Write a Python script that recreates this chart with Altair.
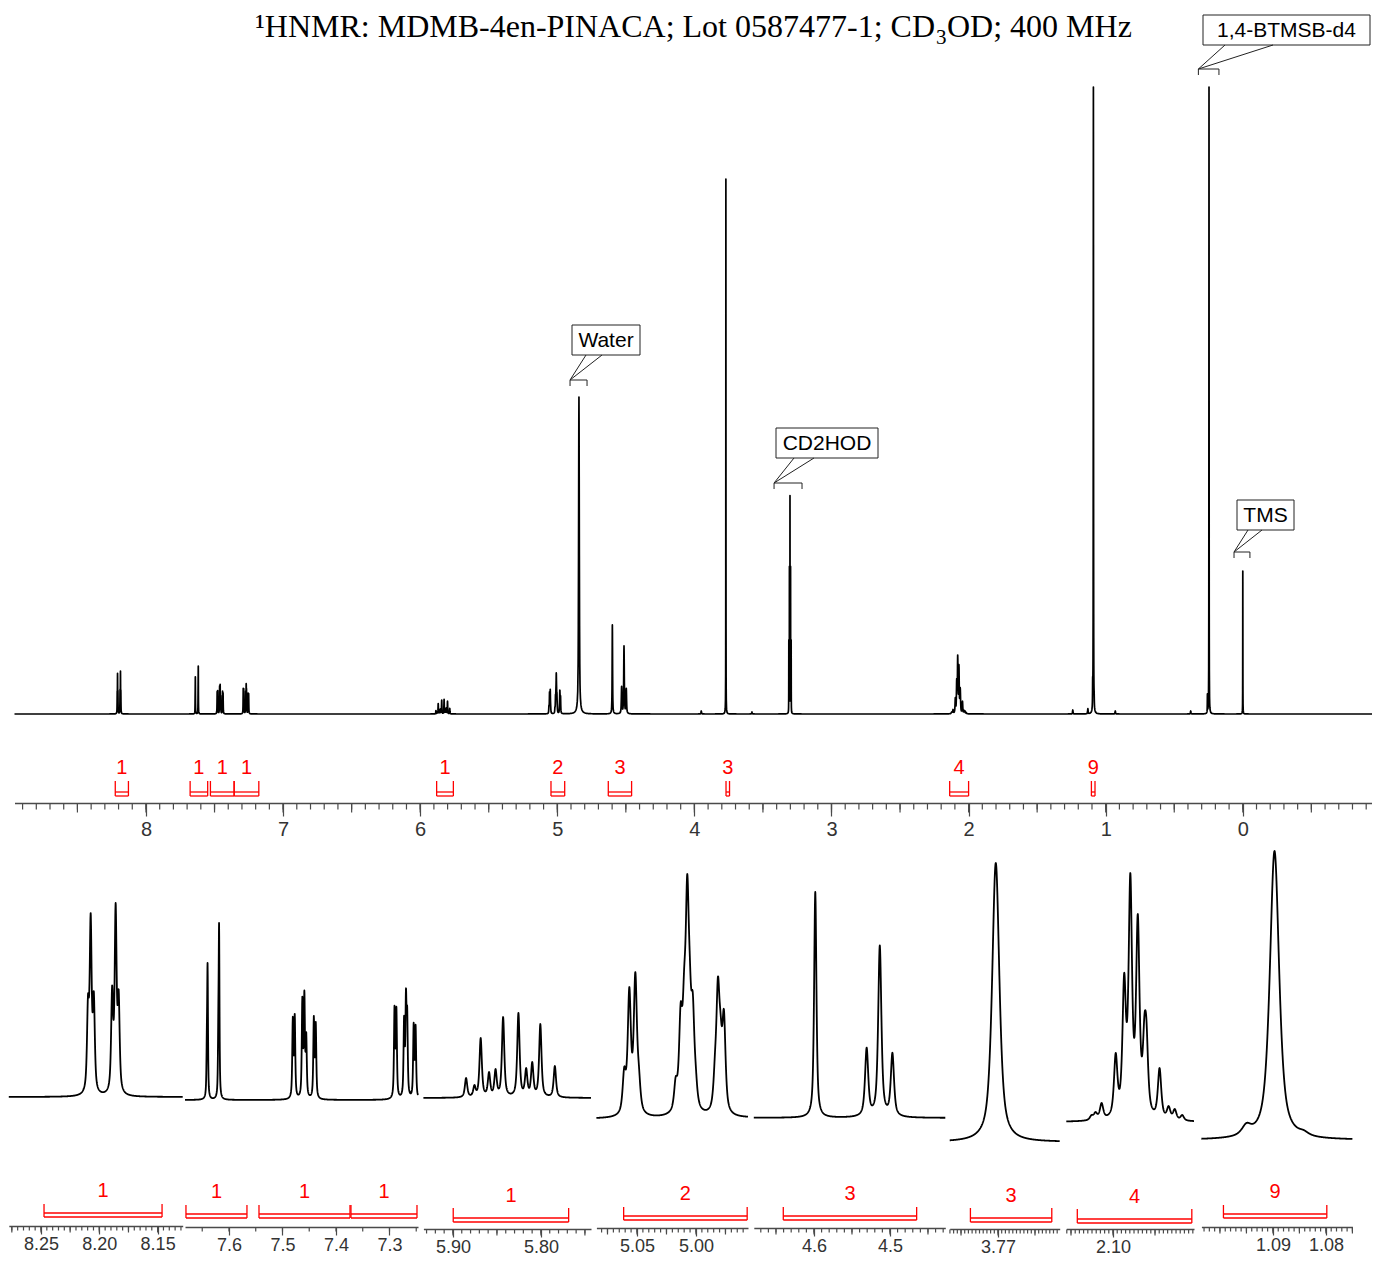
import numpy as np
import pandas as pd
import altair as alt

# ======================= values =======================
TITLE_MAIN = "\u00b9HNMR: MDMB-4en-PINACA; Lot 0587477-1; CD"
TITLE_SUB = "3"
TITLE_TAIL = "OD; 400 MHz"

# compound multiplets: line positions (ppm) and apparent line heights
# (pixels above the baseline of the expansion in which they are shown)
ARO1_PPM = [8.2097, 8.2074, 8.2047, 8.1890, 8.1860, 8.1834]
ARO1_H = [102, 183, 105, 111, 193, 107]
ARO2_PPM = [7.6414, 7.6400, 7.6199, 7.6185]
ARO2_H = [73, 137, 94, 177]
ARO3_PPM = [7.4807, 7.4771, 7.4629, 7.4591, 7.4556, 7.4414, 7.4378]
ARO3_H = [82, 85, 102, 108, 67, 83, 77]
ARO4_PPM = [7.2906, 7.2871, 7.2727, 7.2692, 7.2669, 7.2548, 7.2512]
ARO4_H = [94, 93, 84, 111, 93, 77, 75]
VINYL_PPM = [5.8851, 5.8756, 5.8685, 5.8590, 5.8516, 5.8430, 5.8256, 5.8168, 5.8099, 5.8007, 5.7842]
VINYL_H = [20, 13, 60, 26, 29, 81, 85, 30, 36, 74, 32]
CH2_PPM = [5.0608, 5.0565, 5.0514, 5.0484, 5.0172, 5.0130, 5.0100, 5.0074, 5.0053,
           5.0027, 5.0002, 4.9839, 4.9814, 4.9792, 4.9763]
CH2_H = [52, 132, 147, 54, 42, 116, 151, 245, 166, 126, 54, 66, 142, 106, 109]
NCH_PPM = [4.5983]
NCH_H = [226]
NCH2_PPM = [4.5307, 4.5134, 4.4968]
NCH2_H = [70, 172, 65]
OME_PPM = [3.7703]
OME_H = [279]
ALLYL_PPM = [2.1256, 2.1208, 2.1136, 2.0968, 2.0867, 2.0794, 2.0705, 2.0626, 2.0602,
             2.0446, 2.0338, 2.0265, 2.0176]
ALLYL_H = [7, 10, 19, 69, 149, 249, 208, 107, 102, 54, 16, 13, 7]
TBU_PPM = [1.0950, 1.0897, 1.0842]
TBU_H = [17, 289, 10]

MULT_PPM = [ARO1_PPM, ARO2_PPM, ARO3_PPM, ARO4_PPM, VINYL_PPM, CH2_PPM,
            NCH_PPM, NCH2_PPM, OME_PPM, ALLYL_PPM, TBU_PPM]
MULT_H = [ARO1_H, ARO2_H, ARO3_H, ARO4_H, VINYL_H, CH2_H,
          NCH_H, NCH2_H, OME_H, ALLYL_H, TBU_H]
MULT_HW = [0.0010, 0.0009, 0.0012, 0.0012, 0.0016, 0.0016,
           0.0018, 0.0025, 0.00058, 0.0024, 0.00104]
# apparent height of each multiplet in the full spectrum (px above baseline)
MULT_MAIN_H = [43, 48, 29.7, 30.3, 14.7, 41, 89, 68, 535, 59, 627]

# solvent / reference / impurity lines (height in the full spectrum)
SOLV_PPM = [4.842, 3.3111, 3.3069, 3.3027, 3.2985, 3.2943, 0.2580, 0.2465, 0.0000,
            3.950, 3.580, 1.240, 1.130, 0.930, 0.380]
SOLV_H = [317, 71, 143, 214, 143, 71, 18, 627, 143, 3, 2, 4, 5, 3, 3]
SOLV_HW = [0.003, 0.0006, 0.0006, 0.0006, 0.0006, 0.0006, 0.001, 0.0008, 0.0006,
           0.002, 0.002, 0.002, 0.002, 0.002, 0.002]

# integrals of the full spectrum
MAIN_INT_LO = [8.224, 7.678, 7.530, 7.357, 5.880, 5.046, 4.628, 3.7693, 2.138, 1.1043]
MAIN_INT_HI = [8.128, 7.550, 7.357, 7.177, 5.758, 4.946, 4.458, 3.7437, 2.000, 1.0780]
MAIN_INT_VAL = ["1", "1", "1", "1", "1", "2", "3", "3", "4", "9"]
MAIN_TICKS = [8, 7, 6, 5, 4, 3, 2, 1, 0]

# expansions: integrals and tick labels
P_INT_LO = [[8.2474], [7.6804, 7.5439, 7.3720], [5.8997], [5.0613], [4.6404],
            [3.77373], [2.1425], [1.09934]]
P_INT_HI = [[8.1462], [7.5664, 7.3738, 7.2486], [5.7685], [4.9566], [4.4649],
            [3.76273], [2.0062], [1.07983]]
P_INT_VAL = [["1"], ["1", "1", "1"], ["1"], ["2"], ["3"], ["3"], ["4"], ["9"]]
P_TICKS = [[8.25, 8.20, 8.15], [7.6, 7.5, 7.4, 7.3], [5.9, 5.8], [5.05, 5.00],
           [4.6, 4.5], [3.77], [2.10], [1.09, 1.08]]

# annotations of the full spectrum
ANN_TEXT = ["1,4-BTMSB-d4", "Water", "CD2HOD", "TMS"]
ANN_LO = [0.324, 4.907, 3.419, 0.064]
ANN_HI = [0.174, 4.783, 3.215, -0.052]

# ============================== layout ==============================
OFF = 8
W, H = 1364, 1248
MAIN_DOM = (8.959, -1.0007)
MAIN_RNG = (14.5, 1380)
MAIN_BASE, MAIN_TOP = 714, 87
MAIN_AXY = 803
MAIN_BR = (781, 792, 796, 768)

PANELS = [
    dict(dom=(8.2776, 8.1285), r=(8.8, 182.7), base=1097, top=903, axy=1226,
         steps=(0.005, 0.025), fmt='.2f', br=(1204, 1213, 1217, 1191)),
    dict(dom=(7.6822, 7.2467), r=(185, 418), base=1100, top=923, axy=1227,
         steps=(0.05, None), fmt='.1f', br=(1205, 1214, 1218, 1192)),
    dict(dom=(5.9336, 5.7431), r=(423.4, 591), base=1098, top=1013, axy=1229,
         steps=(0.01, 0.05), fmt='.2f', br=(1208, 1218, 1222, 1196)),
    dict(dom=(5.0844, 4.9559), r=(596.4, 748), base=1119, top=874, axy=1228,
         steps=(0.005, 0.025), fmt='.2f', br=(1207, 1216, 1220, 1194)),
    dict(dom=(4.6792, 4.4272), r=(753.8, 945.3), base=1118, top=892, axy=1228,
         steps=(0.01, 0.05), fmt='.1f', br=(1207, 1216, 1220, 1194)),
    dict(dom=(3.77653, 3.76166), r=(949.7, 1059.7), base=1142, top=863, axy=1229,
         steps=(0.0005, 0.005), fmt='.2f', br=(1208, 1218, 1222, 1196)),
    dict(dom=(2.1556, 2.0036), r=(1066.3, 1194), base=1122, top=873, axy=1229,
         steps=(0.005, 0.05), fmt='.2f', br=(1209, 1219, 1223, 1197)),
    dict(dom=(1.1035, 1.0750), r=(1201.4, 1352.4), base=1140, top=851, axy=1227,
         steps=(0.001, 0.005), fmt='.2f', br=(1205, 1214, 1218, 1192)),
]

ANN_BOX = [(1203, 15, 1370, 45), (572, 325, 640, 355), (776, 428, 878, 458), (1237, 500, 1294, 530)]
ANN_ATTACH = [(1225, 1273), (586, 602), (794, 814), (1248, 1262)]
ANN_BRY = [69, 380, 483, 552]

RED = "#ff0000"
AXC = "#4a4a4a"
SANS = "Liberation Sans"
SERIF = "Liberation Serif"

# ============================ line shapes ============================
ETA = 0.7


def shape(d, hw):
    u = (d / hw) ** 2
    return ETA / (1.0 + u) + (1.0 - ETA) * np.exp(-np.log(2.0) * u)


lines = []
for ppm, h, hw, mh in zip(MULT_PPM, MULT_H, MULT_HW, MULT_MAIN_H):
    p = np.array(ppm, float)
    hh = np.array(h, float)
    A = shape(p[:, None] - p[None, :], hw)
    amp = hh.copy()
    for _ in range(3000):
        amp = np.clip(amp + 0.4 * (hh - A @ amp), 0, None)
    g = np.concatenate([np.linspace(p.min() - 6 * hw, p.max() + 6 * hw, 4000), p])
    curve = (amp[None, :] * shape(g[:, None] - p[None, :], hw)).sum(1)
    k = mh / curve.max()
    for pi, ai in zip(p, amp):
        lines.append((pi, ai * k, hw))
for p, h, w in zip(SOLV_PPM, SOLV_H, SOLV_HW):
    lines.append((p, float(h), w))

OFFS = [-8, -5, -3, -2, -1.5, -1, -0.6, -0.3, 0, 0.3, 0.6, 1, 1.5, 2, 3, 5, 8]


def spectrum(x):
    out = np.zeros_like(x)
    for p, a, w in lines:
        out += a * shape(x - p, w)
    return out


def make_grid(lo, hi, n):
    g = np.linspace(lo, hi, n)
    extra = np.array([p + o * w for p, a, w in lines for o in OFFS])
    extra = extra[(extra >= lo) & (extra <= hi)]
    return np.unique(np.concatenate([g, extra]))


def V(v):
    return v - OFF


def xscale(dom, rng, clamp=False):
    return alt.Scale(domain=[dom[0], dom[1]], range=[V(rng[0]), V(rng[1])],
                     nice=False, zero=False, clamp=clamp)


def tvals(dom, step, dec):
    lo, hi = min(dom), max(dom)
    k0 = int(np.ceil(lo / step - 1e-6))
    k1 = int(np.floor(hi / step + 1e-6))
    return [round(k * step, dec) for k in range(k0, k1 + 1)]


def spec_layer(dom, rng, base, top, n, sw):
    g = make_grid(min(dom), max(dom), n)
    y = spectrum(g)
    df = pd.DataFrame({"ppm": np.round(g, 6), "I": np.round(y, 3)})
    return alt.Chart(df).mark_line(color="black", strokeWidth=sw, strokeJoin="round").encode(
        x=alt.X("ppm:Q", scale=xscale(dom, rng), axis=None),
        y=alt.Y("I:Q", scale=alt.Scale(domain=[0, float(y.max())], range=[V(base), V(top)],
                                       nice=False, zero=False), axis=None),
    )


def axis_layers(dom, rng, axy, minor, mid, major, fmt, sizes, fs, pad):
    out = []
    # minor and medium ticks drawn as rules through the panel's scale
    for vals, ts in ((minor, sizes[0]), (mid, sizes[1])):
        if not vals:
            continue
        tdf = pd.DataFrame({"ppm": vals})
        out.append(alt.Chart(tdf).mark_rule(color=AXC, strokeWidth=1.2).encode(
            x=alt.X("ppm:Q", scale=xscale(dom, rng), axis=None),
            y=alt.value(V(axy) + 0.5), y2=alt.value(V(axy) + 0.5 + ts)))
    # axis line, major ticks and labels
    df = pd.DataFrame({"ppm": [dom[0], dom[1]]})
    ax = alt.Axis(orient="bottom", offset=V(axy) - H, values=major, tickCount=len(major) + 2,
                  tickSize=sizes[2], labels=True, domain=True, grid=False, title=None,
                  tickColor=AXC, domainColor=AXC, tickWidth=1.2, domainWidth=1.6, format=fmt,
                  labelFont=SANS, labelFontSize=fs, labelColor="#333333", labelPadding=pad,
                  labelFlush=False, labelOverlap=False)
    out.append(alt.Chart(df).mark_point(opacity=0).encode(
        x=alt.X("ppm:Q", scale=xscale(dom, rng), axis=ax)))
    return out


def integral_layers(dom, rng, lo, hi, val, br, fs):
    df = pd.DataFrame({"lo": lo, "hi": hi, "lab": val})
    df["mid"] = (df["lo"] + df["hi"]) / 2
    sc = xscale(dom, rng, clamp=True)
    base = alt.Chart(df)
    top, h1, h2, ly = br
    legs = base.transform_fold(["lo", "hi"], as_=["k", "v"]).mark_rule(
        color=RED, strokeWidth=1.3).encode(
        x=alt.X("v:Q", scale=sc, axis=None), y=alt.value(V(top)), y2=alt.value(V(h2)))
    out = [legs]
    for yy in (h1, h2):
        out.append(base.mark_rule(color=RED, strokeWidth=1.3).encode(
            x=alt.X("lo:Q", scale=sc, axis=None), x2="hi:Q", y=alt.value(V(yy))))
    out.append(base.mark_text(color=RED, font=SANS, fontSize=fs, baseline="middle").encode(
        x=alt.X("mid:Q", scale=sc, axis=None), y=alt.value(V(ly)), text="lab:N"))
    return out


layers = []

# ---------------- title ----------------
tdf = pd.DataFrame({"a": [TITLE_MAIN], "b": [TITLE_SUB], "c": [TITLE_TAIL]})
tb = alt.Chart(tdf)
layers.append(tb.mark_text(font=SERIF, fontSize=32, align="right", baseline="alphabetic",
                           color="black").encode(x=alt.value(V(935)), y=alt.value(V(37)), text="a:N"))
layers.append(tb.mark_text(font=SERIF, fontSize=21, align="left", baseline="alphabetic",
                           color="black").encode(x=alt.value(V(936)), y=alt.value(V(44)), text="b:N"))
layers.append(tb.mark_text(font=SERIF, fontSize=32, align="left", baseline="alphabetic",
                           color="black").encode(x=alt.value(V(947)), y=alt.value(V(37)), text="c:N"))

# ---------------- main spectrum ----------------
layers.append(spec_layer(MAIN_DOM, MAIN_RNG, MAIN_BASE, MAIN_TOP, 3000, 1.7))
layers += axis_layers(MAIN_DOM, MAIN_RNG, MAIN_AXY, tvals(MAIN_DOM, 0.1, 1),
                      tvals(MAIN_DOM, 0.5, 1), MAIN_TICKS, "d", (6, 9, 13), 20, 3)
layers += integral_layers(MAIN_DOM, MAIN_RNG, MAIN_INT_LO, MAIN_INT_HI, MAIN_INT_VAL, MAIN_BR, 20)

# ---------------- annotations ----------------
def main_px(ppm):
    return MAIN_RNG[0] + (MAIN_DOM[0] - ppm) * (MAIN_RNG[1] - MAIN_RNG[0]) / (MAIN_DOM[0] - MAIN_DOM[1])


box_df = pd.DataFrame({
    "x0": [V(b[0]) for b in ANN_BOX], "y0": [V(b[1]) for b in ANN_BOX],
    "x1": [V(b[2]) for b in ANN_BOX], "y1": [V(b[3]) for b in ANN_BOX],
    "xc": [V((b[0] + b[2]) / 2) for b in ANN_BOX], "yc": [V((b[1] + b[3]) / 2 + 1) for b in ANN_BOX],
    "t": ANN_TEXT,
})
layers.append(alt.Chart(box_df).mark_rect(fill="white", stroke="#222222", strokeWidth=1).encode(
    x=alt.X("x0:Q", scale=None), x2="x1:Q", y=alt.Y("y0:Q", scale=None), y2="y1:Q"))
layers.append(alt.Chart(box_df).mark_text(font=SANS, fontSize=21, color="black", baseline="middle").encode(
    x=alt.X("xc:Q", scale=None), y=alt.Y("yc:Q", scale=None), text="t:N"))
lead_rows = []
for (ax1, ax2), b, lo, by in zip(ANN_ATTACH, ANN_BOX, ANN_LO, ANN_BRY):
    for axx in (ax1, ax2):
        lead_rows.append({"x": V(axx), "y": V(b[3]), "x2": V(main_px(lo)), "y2": V(by)})
lead_df = pd.DataFrame(lead_rows)
layers.append(alt.Chart(lead_df).mark_rule(color="#222222", strokeWidth=1).encode(
    x=alt.X("x:Q", scale=None), y=alt.Y("y:Q", scale=None), x2="x2:Q", y2="y2:Q"))
abr = pd.DataFrame({"lo": ANN_LO, "hi": ANN_HI, "by": [V(v) for v in ANN_BRY],
                    "by2": [V(v + 6) for v in ANN_BRY]})
layers.append(alt.Chart(abr).mark_rule(color="#222222", strokeWidth=1).encode(
    x=alt.X("lo:Q", scale=xscale(MAIN_DOM, MAIN_RNG), axis=None), x2="hi:Q",
    y=alt.Y("by:Q", scale=None)))
layers.append(alt.Chart(abr).transform_fold(["lo", "hi"], as_=["k", "v"]).mark_rule(
    color="#222222", strokeWidth=1).encode(
    x=alt.X("v:Q", scale=xscale(MAIN_DOM, MAIN_RNG), axis=None),
    y=alt.Y("by:Q", scale=None), y2="by2:Q"))

# ---------------- expansions ----------------
for i, pnl in enumerate(PANELS):
    dom, rng = pnl["dom"], pnl["r"]
    layers.append(spec_layer(dom, rng, pnl["base"], pnl["top"], 900, 1.8))
    st_minor, st_mid = pnl["steps"]
    dec = 5
    minor = tvals(dom, st_minor, dec)
    mid = tvals(dom, st_mid, dec) if st_mid else []
    layers += axis_layers(dom, rng, pnl["axy"], minor, mid, P_TICKS[i], pnl["fmt"], (4, 6, 8), 18, 1)
    layers += integral_layers(dom, rng, P_INT_LO[i], P_INT_HI[i], P_INT_VAL[i], pnl["br"], 20)

chart = alt.layer(*layers).resolve_scale(x="independent", y="independent").properties(
    width=W, height=H, autosize=alt.AutoSizeParams(type="none"), padding=0,
    background="white").configure_view(stroke=None)

chart.save("out.html", embed_options={"renderer": "svg", "actions": False})
